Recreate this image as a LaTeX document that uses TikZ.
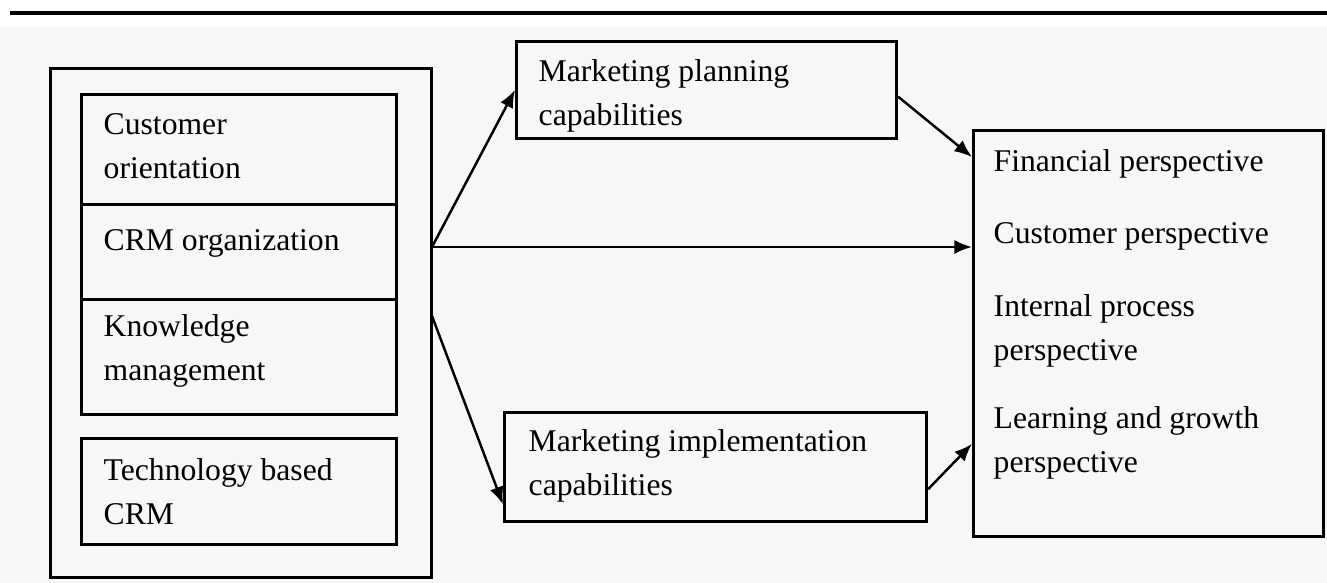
\documentclass[tikz,border=0pt]{standalone}
\usepackage{fontspec}
\setmainfont{Liberation Serif}
\usetikzlibrary{arrows.meta}
\definecolor{paper}{HTML}{F7F7F7}

\begin{document}
\begin{tikzpicture}[x=0.01cm, y=-0.01cm,
  box/.style={draw, line width=0.8pt, inner sep=0pt, anchor=north west},
  txt/.style={inner sep=0pt, anchor=west, align=left, font=\fontsize{9}{12.5}\selectfont},
  arr/.style={-{Latex[length=5pt,width=4pt]}, line width=0.7pt}]
\useasboundingbox (0,0) rectangle (1327,583);
\fill[white] (0,0) rectangle (1327,583);
\fill[paper] (0,27) rectangle (1327,583);
\draw[line width=1.2pt] (10,13) -- (1327,13);

% CRM dimensions
\node[box, minimum width=3.81cm, minimum height=5.09cm] (grp) at (49,67) {};
\node[box, minimum width=3.15cm, minimum height=1.10cm] (cust) at (80,93) {};
\node[box, minimum width=3.15cm, minimum height=0.95cm] (crm) at (80,203) {};
\node[box, minimum width=3.15cm, minimum height=1.15cm] (know) at (80,298) {};
\node[box, minimum width=3.15cm, minimum height=1.06cm] (tech) at (80,437) {};
\node[txt] (cust-t) at (103,146) {Customer\\orientation};
\node[txt] (crm-t) at (103,243) {CRM organization};
\node[txt] (know-t) at (103,351) {Knowledge\\management};
\node[txt] (tech-t) at (103,492) {Technology based\\CRM};

% capabilities
\node[box, minimum width=3.80cm, minimum height=0.97cm] (plan) at (515,40) {};
\node[box, minimum width=4.22cm, minimum height=1.09cm] (impl) at (503,411) {};
\node[txt] (plan-t) at (538,96) {Marketing planning\\capabilities};
\node[txt] (impl-t) at (528,466) {Marketing implementation\\capabilities};

% performance
\node[box, minimum width=3.50cm, minimum height=4.06cm] (persp) at (972,129) {};
\node[txt] (fin-t) at (993,164) {Financial perspective};
\node[txt] (cus-t) at (993,236) {Customer perspective};
\node[txt] (int-t) at (993,331) {Internal process\\perspective};
\node[txt] (lrn-t) at (993,443) {Learning and growth\\perspective};

\coordinate (fork) at (432,247);
\coordinate (fork2) at (432,316);
\path[arr]
(fork) edge (plan.west)   edge (persp.west |- fork)
(fork2) edge (impl.190)
(plan.358) edge (persp.135)
(impl.354) edge (persp.212)
;
\end{tikzpicture}
\end{document}
